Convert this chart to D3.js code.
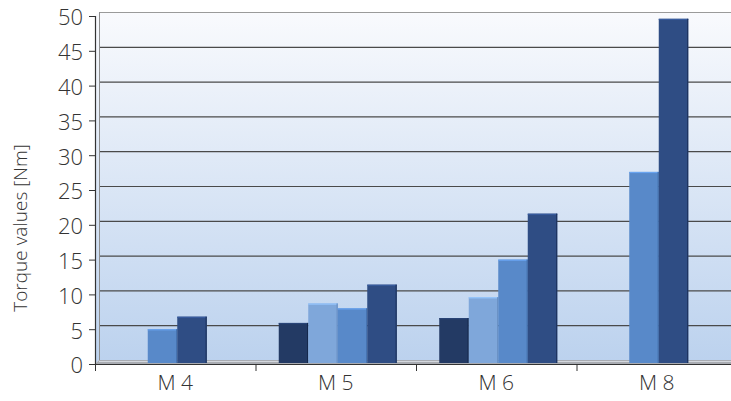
<!DOCTYPE html>
<html>
<head>
<meta charset="utf-8">
<script src="https://cdn.jsdelivr.net/npm/d3@7"></script>
<style>
html,body{margin:0;padding:0;background:#fff;}
svg{display:block;}
text{font-family:"Open Sans","Liberation Sans",Arial,sans-serif;font-weight:300;fill:#333;}
</style>
</head>
<body>
<svg id="chart" width="731" height="401"></svg>
<script>
const categories = ["M 4", "M 5", "M 6", "M 8"];
const seriesNames = ["s1", "s2", "s3", "s4"];
const series1 = [null, 5.9, 6.6, null];
const series2 = [null, 8.7, 9.6, null];
const series3 = [5.0, 8.0, 15.0, 27.6];
const series4 = [6.8, 11.4, 21.6, 49.6];
const yTicks = [0, 5, 10, 15, 20, 25, 30, 35, 40, 45, 50];
const yTitle = "Torque values [Nm]";
const colors = ["#233a64", "#7fa7da", "#5889c9", "#2f4d84"];
const edgeColors = ["#16284a", "#6a91c4", "#4673b0", "#1e3460"];

const seriesData = [series1, series2, series3, series4];

const svg = d3.select("#chart");
const W = 731;
const depthX = 4, depthY = 4;
const axisX = 95;
const FONT = "'Open Sans', 'Liberation Sans', Arial, sans-serif";
const y = d3.scaleLinear().domain([0, 50]).range([364, 16]);
const x = d3.scaleBand().domain(categories).range([axisX, 737]).paddingInner(0).paddingOuter(0);

// gradient
const defs = svg.append("defs");
const grad = defs.append("linearGradient").attr("id", "wall").attr("x1", 0).attr("y1", 0).attr("x2", 0).attr("y2", 1);
grad.append("stop").attr("offset", "0%").attr("stop-color", "#f9fafd");
grad.append("stop").attr("offset", "100%").attr("stop-color", "#bcd2ee");

const backLeft = axisX + depthX;
const backTop = y(50) - depthY;
const backBottom = y(0) - depthY;

// back wall
svg.append("rect")
  .attr("x", backLeft).attr("y", backTop)
  .attr("width", W - backLeft + 10).attr("height", backBottom - backTop)
  .attr("fill", "url(#wall)");

// side wall
svg.append("polygon")
  .attr("points", [[axisX, y(50)], [backLeft, backTop], [backLeft, backBottom], [axisX, y(0)]].map(p => p.join(",")).join(" "))
  .attr("fill", "url(#wall)").attr("stroke", "none");

// gridlines
svg.append("g").selectAll("line").data(yTicks).join("line")
  .attr("x1", backLeft).attr("x2", W)
  .attr("y1", d => y(d) - depthY + 0.5).attr("y2", d => y(d) - depthY + 0.5)
  .attr("stroke", d => d === 50 ? "#9a9a9a" : "#4a4a4a").attr("stroke-width", 1.2);

// back wall left edge
svg.append("line").attr("x1", backLeft + 0.5).attr("x2", backLeft + 0.5)
  .attr("y1", backTop).attr("y2", backBottom).attr("stroke", "#8f8f8f").attr("stroke-width", 1);

// floor
svg.append("polygon")
  .attr("points", [[axisX, y(0)], [backLeft, backBottom], [W, backBottom], [W, y(0)]].map(p => p.join(",")).join(" "))
  .attr("fill", "#a9acb2");
svg.append("line").attr("x1", backLeft).attr("x2", W)
  .attr("y1", backBottom + 1.5).attr("y2", backBottom + 1.5)
  .attr("stroke", "#d4d8de").attr("stroke-width", 1);

// bars
const groupW = 29.5;
categories.forEach((cat, ci) => {
  const present = seriesNames.filter((s, si) => seriesData[si][ci] !== null);
  const center = x(cat) + x.bandwidth() / 2 + 2;
  const inner = d3.scaleBand().domain(present)
    .range([center - present.length * groupW / 2, center + present.length * groupW / 2]);
  const g = svg.append("g");
  present.forEach(s => {
    const si = seriesNames.indexOf(s);
    const v = seriesData[si][ci];
    const bx = inner(s), bw = inner.bandwidth();
    const top = y(v), bottom = y(0) - 1;
    g.append("rect").attr("x", bx).attr("y", top)
      .attr("width", bw).attr("height", bottom - top)
      .attr("fill", colors[si]);
    g.append("rect").attr("x", bx).attr("y", top)
      .attr("width", bw).attr("height", 1.2)
      .attr("fill", d3.color(colors[si]).brighter(0.5));
    g.append("rect").attr("x", bx + bw - 1.2).attr("y", top)
      .attr("width", 1.2).attr("height", bottom - top)
      .attr("fill", edgeColors[si]);
  });
});

// y axis
const yAxis = d3.axisLeft(y).tickValues(yTicks).tickSize(6).tickPadding(6).tickFormat(d3.format("d"));
const yg = svg.append("g").attr("transform", `translate(${axisX},0)`).call(yAxis);
yg.select(".domain").attr("stroke", "#333").attr("stroke-width", 1.2);
yg.selectAll(".tick line").attr("stroke", "#333");
yg.selectAll(".tick text").attr("font-size", 22).attr("font-family", FONT).attr("font-weight", 300)
  .attr("fill", "#333").attr("dy", "0.4em").attr("x", -12);

// x axis
const xAxis = d3.axisBottom(x).tickSize(0).tickPadding(11);
const xg = svg.append("g").attr("transform", `translate(0,${y(0)})`).call(xAxis);
xg.select(".domain").remove();
svg.append("line").attr("x1", axisX).attr("x2", W).attr("y1", y(0) + 0.5).attr("y2", y(0) + 0.5)
  .attr("stroke", "#333").attr("stroke-width", 1.2);
svg.append("g").selectAll("line").data(categories).join("line")
  .attr("x1", d => x(d) + 0.5).attr("x2", d => x(d) + 0.5)
  .attr("y1", y(0)).attr("y2", y(0) + 7).attr("stroke", "#333");
xg.selectAll(".tick text").attr("font-size", 21).attr("font-family", FONT).attr("font-weight", 300)
  .attr("fill", "#333").attr("dy", "0.71em");

// y title
svg.append("text")
  .attr("transform", "translate(27,228) rotate(-90)")
  .attr("text-anchor", "middle")
  .attr("font-size", 19)
  .attr("font-family", FONT).attr("font-weight", 300)
  .attr("fill", "#333")
  .text(yTitle);
</script>
</body>
</html>
